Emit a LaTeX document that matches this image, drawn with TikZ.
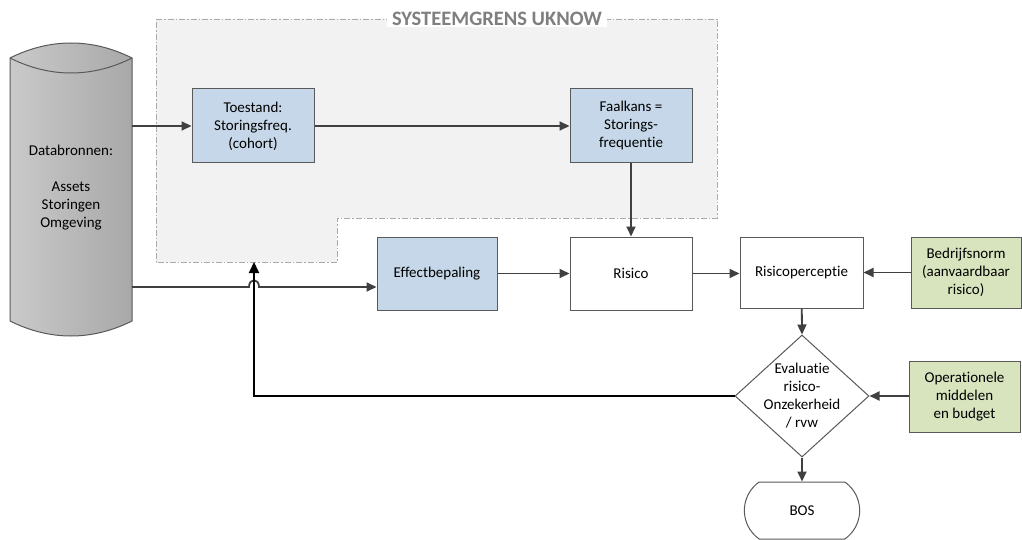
\documentclass[tikz,border=0pt]{standalone}
\usepackage{xcolor}
\usepackage{fontspec}
\setmainfont{Carlito}[Ligatures=NoCommon]
\usepackage{tikz}
\usetikzlibrary{shapes.geometric,shapes.misc,arrows.meta}
\definecolor{boxline}{RGB}{89,89,89}
\definecolor{flowline}{RGB}{64,64,64}
\definecolor{bluefill}{RGB}{197,215,232}
\definecolor{greenfill}{RGB}{215,228,189}
\definecolor{zonefill}{RGB}{242,242,242}
\definecolor{zoneline}{RGB}{170,170,170}
\definecolor{titlegray}{RGB}{127,127,127}

\begin{document}
\begin{tikzpicture}[x=1pt,y=-1pt,
  font=\fontsize{15}{18}\selectfont,
  box/.style={draw=boxline,line width=1pt,fill=white,align=center,inner sep=2pt,
    minimum width=122pt,minimum height=73pt},
  bluebox/.style={box,fill=bluefill},
  greenbox/.style={box,fill=greenfill},
  flow/.style={draw=flowline,line width=1.8pt,-{Triangle[length=10pt,width=9pt]}},
  feedback/.style={draw=black,line width=2pt,-{Triangle[length=11pt,width=10pt]}}]
\useasboundingbox (0,0) rectangle (1022,540);
\path [fill=zonefill,draw=zoneline,line width=0.8pt,dash pattern=on 6pt off 2pt on 1.5pt off 2pt]
  (156,19) -- (717,19) -- (717,218) -- (337,218) -- (337,262) -- (156,262) -- cycle;
\node [fill=white,text=titlegray,font=\fontsize{20.5}{24}\selectfont\bfseries,inner xsep=5pt,inner ysep=1pt] (zonetitle) at (497,19) {SYSTEEMGRENS UKNOW};
\shade [left color=gray!42,right color=gray!68,draw=boxline,line width=1pt]
  (10,58) .. controls (50,38) and (92,38) .. (132,58) -- (132,321)
  .. controls (92,341) and (50,341) .. (10,321) -- cycle;
\draw [boxline,line width=1pt] (10,58) .. controls (50,78) and (92,78) .. (132,58);
\node [minimum width=122pt,minimum height=263pt,inner sep=0pt,align=center] (db) at (71,189.5) {};
\node [align=center] (dbtext) at (71,188) {Databronnen:\\[18pt]Assets\\Storingen\\Omgeving};
\node [bluebox,minimum height=74pt] (toestand) at (253,126) {Toestand:\\Storingsfreq.\\(cohort)};
\node [bluebox,minimum height=74pt] (faalkans) at (631,126) {Faalkans =\\Storings-\\frequentie};
\node [bluebox,minimum width=120pt] (effect) at (437,273.5) {Effectbepaling};
\node [box] (risico) at (631,273.5) {Risico};
\node [box,minimum width=123pt,minimum height=71pt] (percep) at (801.5,272.5) {Risicoperceptie};
\node [greenbox,minimum width=110pt,minimum height=71pt] (norm) at (966,272.5) {Bedrijfsnorm\\(aanvaardbaar\\risico)};
\node [diamond,draw=boxline,line width=1pt,fill=white,minimum width=134pt,minimum height=122pt,inner sep=0pt] (eval) at (802,396) {};
\node [align=center] (evaltext) at (802,396) {Evaluatie\\risico-\\Onzekerheid\\/ rvw};
\node [greenbox,minimum width=111pt,minimum height=71pt] (oper) at (964.5,396.5) {Operationele\\middelen\\en budget};
\node [rounded rectangle,rounded rectangle arc length=110,draw=boxline,line width=1pt,fill=white,minimum width=122pt,minimum height=57pt] (bos) at (802,510.5) {BOS};
\coordinate (jump) at (254,287);
\coordinate (fbend) at (254,262);
\draw [flow] (db.east |- toestand) -- (toestand);
\draw [flow] (toestand) -- (faalkans);
\draw [flow] (faalkans) -- (risico);
\draw [flow] (db.east |- jump) -- ([xshift=-5pt]jump) .. controls ([xshift=-5pt,yshift=9pt]jump) and ([xshift=5pt,yshift=9pt]jump) .. ([xshift=5pt]jump) -- (effect.west |- jump);
\draw [flow] (effect) -- (risico);
\draw [flow] (risico.east) -- (percep.west |- risico.east);
\draw [flow] (norm) -- (percep);
\draw [flow] (percep) -- (eval.north);
\draw [flow] (oper.west |- eval) -- (eval.east);
\draw [flow] (eval.south) -- (bos.north);
\draw [feedback] (eval.west) -| (fbend);
\end{tikzpicture}
\end{document}
